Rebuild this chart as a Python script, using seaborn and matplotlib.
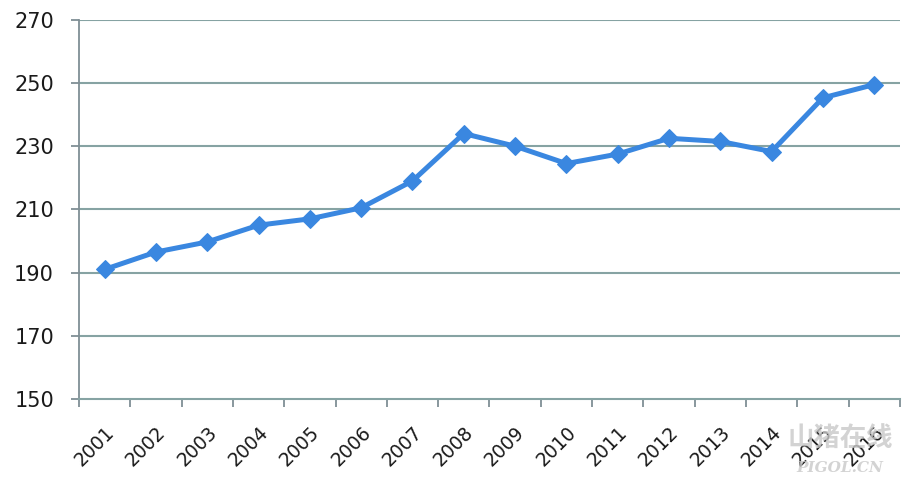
import matplotlib
matplotlib.use("Agg")
import matplotlib.pyplot as plt
import seaborn as sns
import pandas as pd
import numpy as np
from matplotlib.ticker import FixedLocator

years = ["2001", "2002", "2003", "2004", "2005", "2006", "2007", "2008",
         "2009", "2010", "2011", "2012", "2013", "2014", "2015", "2016"]
values = [191, 196.5, 199.7, 205, 207, 210.5, 219, 234,
          230, 224.5, 227.5, 232.5, 231.5, 228.3, 245.3, 249.5]
y_ticks = [150, 170, 190, 210, 230, 250, 270]

df = pd.DataFrame({"year": years, "value": values})

sns.set_style("white")
plt.rcParams['font.family'] = ['DejaVu Sans', 'Noto Sans CJK SC']

fig = plt.figure(figsize=(9.05, 4.83), dpi=100)
ax = fig.add_axes([0.0873, 0.174, 0.907, 0.785])

line_color = "#3A87E0"
grid_color = "#86A3A3"

sns.lineplot(data=df, x="year", y="value", ax=ax, color=line_color,
             linewidth=3.6, marker="D", markersize=9.5,
             markeredgecolor=line_color, markerfacecolor=line_color,
             sort=False)

ax.set_ylim(150, 270)
ax.set_xlim(-0.5, len(years) - 0.5)
ax.set_yticks(y_ticks)
ax.set_yticklabels([str(t) for t in y_ticks], fontsize=15, color="#1a1a1a")
ax.set_xticks(range(len(years)))
ax.set_xticklabels(years, rotation=45, ha="right", va="top",
                   rotation_mode="anchor", fontsize=13.5, color="#1a1a1a")
ax.xaxis.set_minor_locator(FixedLocator(np.arange(-0.5, len(years), 1.0)))
ax.tick_params(axis="x", which="major", length=0, pad=17)
ax.tick_params(axis="x", which="minor", length=6, width=1.3, color="#7F8F95", direction="out", bottom=True)
ax.tick_params(axis="y", which="major", length=6, width=1.3, color="#7F8F95", direction="out", left=True, pad=12)

for t in y_ticks[1:]:
    ax.axhline(t, color=grid_color, linewidth=1.5, zorder=0)

for s in ["top", "right"]:
    ax.spines[s].set_visible(False)
ax.spines["left"].set_color("#7F8F95")
ax.spines["left"].set_linewidth(1.3)
ax.spines["bottom"].set_color(grid_color)
ax.spines["bottom"].set_linewidth(1.5)

ax.set_xlabel("")
ax.set_ylabel("")

fig.text(0.928, 0.092, "山猪在线", fontsize=19, color="#c8c8c8", ha="center", va="center",
         family=["Noto Sans CJK SC"], fontweight="bold", alpha=0.8)
fig.text(0.928, 0.032, "PIGOL.CN", fontsize=11, color="#c8c8c8", ha="center", va="center",
         family=["DejaVu Serif"], style="italic", fontweight="bold", alpha=0.8)

fig.savefig("out.png", dpi=100, facecolor="white")
